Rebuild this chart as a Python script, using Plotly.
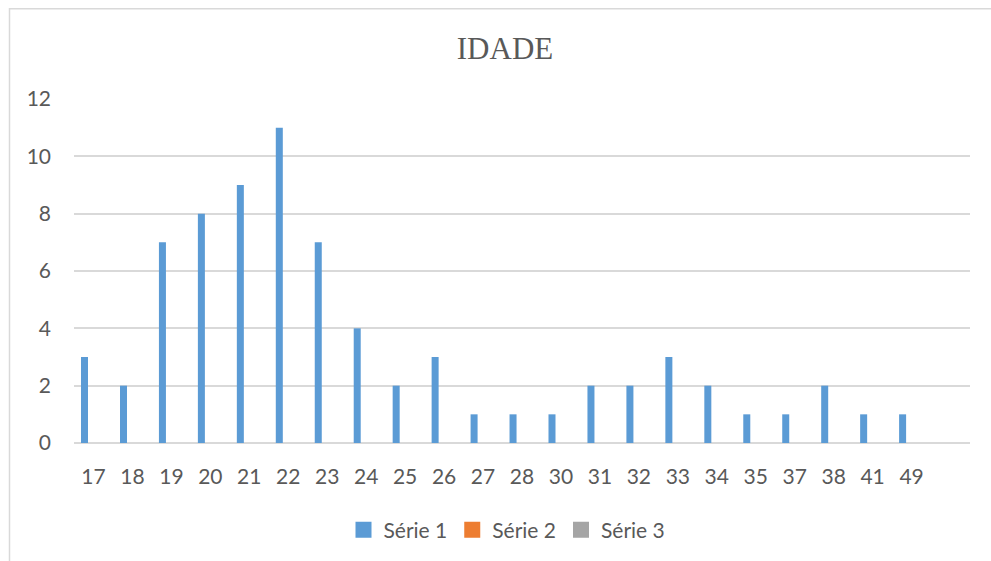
import plotly.graph_objects as go

categories = ["17", "18", "19", "20", "21", "22", "23", "24", "25", "26", "27",
              "28", "30", "31", "32", "33", "34", "35", "37", "38", "41", "49"]
serie1 = [3, 2, 7, 8, 9, 11, 7, 4, 2, 3, 1, 1, 1, 2, 2, 3, 2, 1, 1, 2, 1, 1]
serie2 = [None] * len(categories)
serie3 = [None] * len(categories)
names = ["Série 1", "Série 2", "Série 3"]
colors = ["#5B9BD5", "#ED7D31", "#A5A5A5"]
yticks = [0, 2, 4, 6, 8, 10, 12]

W, H = 991, 561
L, R, T, B = 74, 21, 99, 117
pw, ph = W - L - R, H - T - B

def px(x):
    return (x - L) / pw

def py(y):
    return (H - B - y) / ph

FONT = "Lato"
GREY = "#595959"

fig = go.Figure()
for vals, name, col, off in zip([serie1, serie2, serie3], names, colors, [-0.32, -0.14, 0.04]):
    fig.add_trace(go.Bar(x=categories, y=vals, name=name, marker_color=col,
                         width=0.18, offset=off, marker_line_width=0, showlegend=False))
for name, col in zip(names, colors):
    fig.add_trace(go.Scatter(x=[None], y=[None], mode="markers", name=name,
                             marker=dict(symbol="square", size=16, color=col,
                                         line=dict(width=0))))

fig.update_layout(
    width=W, height=H,
    margin=dict(l=L, r=R, t=T, b=B),
    paper_bgcolor="white", plot_bgcolor="white",
    font=dict(family=FONT, size=21, color=GREY),
    title=dict(text="IDADE", xref="container", x=505 / W, xanchor="center",
               y=1 - 48 / H, yanchor="middle",
               font=dict(family="Liberation Serif", size=31, color=GREY)),
    showlegend=True,
    legend=dict(orientation="h", x=px(507), xanchor="center", y=py(530), yanchor="middle",
                font=dict(family=FONT, size=21, color=GREY), itemwidth=30,
                traceorder="normal", itemsizing="trace"),
    barmode="overlay",
    shapes=[dict(type="rect", xref="paper", yref="paper",
                 x0=px(9.5), x1=px(1000), y0=py(575), y1=py(8.5),
                 line=dict(color="#d9d9d9", width=1.5), fillcolor="rgba(0,0,0,0)",
                 layer="below")],
)
fig.update_xaxes(type="category", range=[-0.5, 22.5], showgrid=False, showline=False,
                 zeroline=False, ticks="", ticklabelstandoff=19,
                 tickfont=dict(family=FONT, size=21, color=GREY), fixedrange=True)
fig.update_yaxes(range=[0, 12], tickvals=yticks, showgrid=True, gridcolor="#d9d9d9",
                 gridwidth=1.5, zeroline=True, zerolinecolor="#d9d9d9", zerolinewidth=1.5,
                 showline=False, ticks="", ticklabelstandoff=22,
                 tickfont=dict(family=FONT, size=21, color=GREY), fixedrange=True)

fig.write_html("out.html", post_script="document.body.style.margin='0';",
               config={"displayModeBar": False})
